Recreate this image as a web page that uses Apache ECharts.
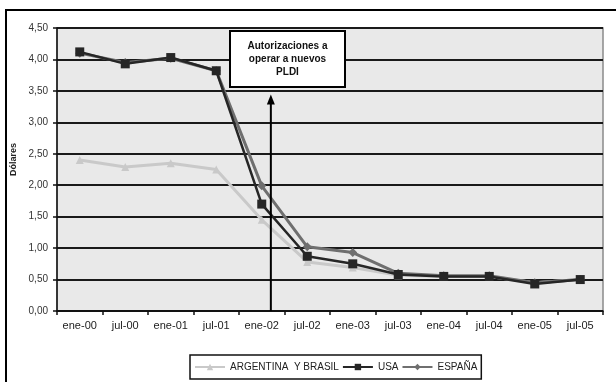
<!DOCTYPE html>
<html style="height: 100%;margin: 0;padding: 0;">
<head>
    <meta charset="utf-8">
    <title>Dólares</title>
    <script src="https://cdn.jsdelivr.net/npm/echarts@6/dist/echarts.min.js"></script>
</head>
<body style="margin:0;padding:0;background:#fff">
<div id="main" style="width:616px;height:382px"></div>
<script type="text/javascript">
var meses = ['ene-00','jul-00','ene-01','jul-01','ene-02','jul-02','ene-03','jul-03','ene-04','jul-04','ene-05','jul-05'];
var argentinaBrasil = [2.40, 2.29, 2.35, 2.25, 1.45, 0.78, 0.69, 0.57, 0.55, 0.55, 0.45, 0.50];
var usa = [4.12, 3.93, 4.03, 3.82, 1.70, 0.87, 0.75, 0.58, 0.55, 0.55, 0.43, 0.50];
var espana = [4.10, 3.95, 4.02, 3.82, 1.99, 1.02, 0.93, 0.60, 0.56, 0.56, 0.45, 0.50];
var yTicks = ['0,00','0,50','1,00','1,50','2,00','2,50','3,00','3,50','4,00','4,50'];

var myChart = echarts.init(document.getElementById('main'));
var fuente = 'Liberation Sans, Arial, sans-serif';

var option = {
    animation: false,
    backgroundColor: '#fff',
    textStyle: { fontFamily: fuente },
    grid: {
        left: 57, right: 13, top: 28, bottom: 71,
        show: true,
        backgroundColor: '#e9e9e9',
        borderColor: '#8a8a8a',
        borderWidth: 1.5
    },
    legend: {
        left: 190, top: 355,
        borderColor: '#111', borderWidth: 1.5,
        padding: [7, 4, 7, 4],
        itemGap: 3, itemWidth: 30, itemHeight: 8,
        textStyle: { fontSize: 10, color: '#222', fontFamily: fuente },
        data: ['ARGENTINA  Y BRASIL', 'USA', 'ESPAÑA']
    },
    xAxis: {
        type: 'category',
        data: meses,
        boundaryGap: true,
        axisLine: { lineStyle: { color: '#111', width: 1.5 } },
        axisTick: { show: true, length: 4, lineStyle: { color: '#111', width: 1.5 } },
        axisLabel: { color: '#222', fontSize: 11, margin: 9, interval: 0 }
    },
    yAxis: {
        type: 'value',
        min: 0, max: 4.5, interval: 0.5,
        name: 'Dólares',
        nameLocation: 'middle',
        nameRotate: 90,
        nameGap: 30,
        nameTextStyle: { fontSize: 9, fontWeight: 'bold', color: '#222', padding: [0, 0, 0, 20] },
        axisLine: { show: true, lineStyle: { color: '#111', width: 1.5 } },
        axisTick: { show: true, length: 4, lineStyle: { color: '#111', width: 1.5 } },
        axisLabel: {
            color: '#333', fontSize: 10, margin: 9,
            formatter: function (v) { return yTicks[Math.round(v / 0.5)]; }
        },
        splitLine: { lineStyle: { color: '#1a1a1a', width: 1.8 } }
    },
    series: [
        {
            name: 'ARGENTINA  Y BRASIL', type: 'line', data: argentinaBrasil,
            symbol: 'triangle', symbolSize: 8,
            lineStyle: { color: '#c9c9c9', width: 3 },
            itemStyle: { color: '#c9c9c9' }
        },
        {
            name: 'ESPAÑA', type: 'line', data: espana,
            symbol: 'diamond', symbolSize: 9,
            lineStyle: { color: '#6f6f6f', width: 3 },
            itemStyle: { color: '#6f6f6f' }
        },
        {
            name: 'USA', type: 'line', data: usa,
            symbol: 'rect', symbolSize: 9,
            lineStyle: { color: '#262626', width: 2.5 },
            itemStyle: { color: '#262626' }
        }
    ]
};
myChart.setOption(option);

// flecha y cuadro de la anotación, a partir de la posición de ene-02
var p0 = myChart.convertToPixel({ xAxisIndex: 0 }, 'ene-02');
var p1 = myChart.convertToPixel({ xAxisIndex: 0 }, 'jul-02');
var ax = p0 + (p1 - p0) * 0.2;
var yBase = myChart.convertToPixel({ yAxisIndex: 0 }, 0);
var yTop = myChart.convertToPixel({ yAxisIndex: 0 }, 3.41);

myChart.setOption({
    graphic: [
        { type: 'rect', shape: { x: 6, y: 10, width: 620, height: 380 },
          style: { fill: 'none', stroke: '#000', lineWidth: 2 }, silent: true },
        { type: 'line', shape: { x1: ax, y1: yBase, x2: ax, y2: yTop + 6 },
          style: { stroke: '#000', lineWidth: 2 }, z: 100 },
        { type: 'polygon', shape: { points: [[ax, yTop - 2], [ax - 4, yTop + 8], [ax + 4, yTop + 8]] },
          style: { fill: '#000' }, z: 100 },
        { type: 'rect', shape: { x: 230, y: 31, width: 115, height: 56 },
          style: { fill: '#fff', stroke: '#000', lineWidth: 2 }, z: 100 },
        { type: 'text', x: 287.5, y: 59, z: 101,
          style: { text: 'Autorizaciones a\noperar a nuevos\nPLDI', fontSize: 10, fontWeight: 'bold',
                   fontFamily: fuente, fill: '#111', align: 'center', verticalAlign: 'middle', lineHeight: 13 } }
    ]
});
</script>
</body>
</html>
